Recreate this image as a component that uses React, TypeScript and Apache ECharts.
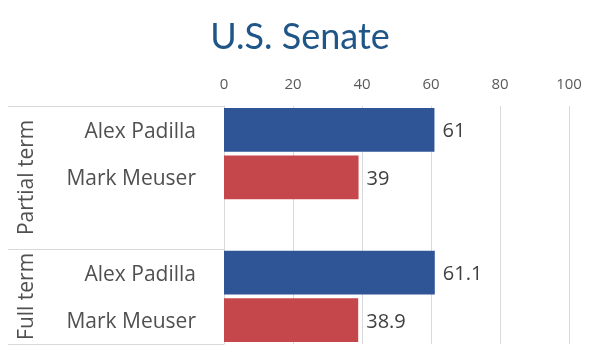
import React, { useEffect, useRef } from "react";
import * as echarts from "echarts";

const chartTitle = "U.S. Senate";
const groups = ["Partial term", "Full term"];
const candidates = ["Alex Padilla", "Mark Meuser"];
const partialValues = [61, 39];
const fullValues = [61.1, 38.9];
const candidateColors = ["#2f5597", "#c5474b"];
const xMin = 0;
const xMax = 100;
const xInterval = 20;

const FONT = "Open Sans";

export default function App() {
  const ref = useRef<HTMLDivElement>(null);
  useEffect(() => {
    const chart = echarts.init(ref.current!, null, { renderer: "svg" });
    const cats = [...candidates, "", ...candidates];
    const data: any[] = [
      ...partialValues.map((v, i) => ({ value: v, itemStyle: { color: candidateColors[i] } })),
      { value: "-" },
      ...fullValues.map((v, i) => ({ value: v, itemStyle: { color: candidateColors[i] } })),
    ];
    const groupRanges = [
      [0, candidates.length],
      [candidates.length + 1, candidates.length * 2 + 1],
    ];
    chart.setOption({
      animation: false,
      title: {
        text: chartTitle,
        left: "center",
        top: 12,
        textStyle: { fontFamily: "Lato", fontSize: 36, fontWeight: "normal", color: "#1f5687" },
      },
      grid: { left: 224, right: 31, top: 106, bottom: 18 },
      xAxis: {
        type: "value",
        position: "top",
        min: xMin,
        max: xMax,
        interval: xInterval,
        axisLine: { show: false },
        axisTick: { show: false },
        splitLine: { lineStyle: { color: "#d9d9d9", width: 1 } },
        axisLabel: { fontFamily: FONT, fontSize: 15, color: "#595959", margin: 16 },
      },
      yAxis: {
        type: "category",
        inverse: true,
        data: cats,
        axisLine: { show: true, lineStyle: { color: "#d9d9d9" } },
        axisTick: { show: false },
        axisLabel: { fontFamily: FONT, fontSize: 21, color: "#505050", margin: 28 },
      },
      series: [
        {
          type: "bar",
          data,
          barCategoryGap: "8%",
          label: {
            show: true,
            position: "right",
            distance: 8,
            fontFamily: FONT,
            fontSize: 20,
            color: "#404040",
          },
        },
      ],
    });

    const y0 = chart.convertToPixel({ yAxisIndex: 0 }, 0) as number;
    const y1 = chart.convertToPixel({ yAxisIndex: 0 }, 1) as number;
    const band = y1 - y0;
    const boundary = (i: number) => y0 + band * i - band / 2;
    const xRight = chart.convertToPixel({ xAxisIndex: 0 }, xMin) as number;
    const xLeft = 8;
    const lineYs = [boundary(0), boundary(groupRanges[1][0]), boundary(groupRanges[1][1])];
    const graphics: any[] = lineYs.map((y) => ({
      type: "line",
      shape: { x1: xLeft, y1: Math.round(y) + 0.5, x2: xRight, y2: Math.round(y) + 0.5 },
      style: { stroke: "#d9d9d9", lineWidth: 1 },
    }));
    const groupTops = [boundary(0), boundary(groupRanges[1][0])];
    const groupBottoms = [boundary(groupRanges[1][0]), boundary(groupRanges[1][1])];
    groups.forEach((g, i) => {
      graphics.push({
        type: "text",
        x: 25,
        y: (groupTops[i] + groupBottoms[i]) / 2,
        rotation: Math.PI / 2,
        style: {
          text: g,
          fontFamily: FONT,
          fontSize: 21,
          fill: "#505050",
          align: "center",
          verticalAlign: "middle",
        },
      });
    });
    chart.setOption({ graphic: graphics });
    return () => chart.dispose();
  }, []);
  return <div ref={ref} style={{ position: "fixed", left: 0, top: 0, width: 600, height: 362 }} />;
}
